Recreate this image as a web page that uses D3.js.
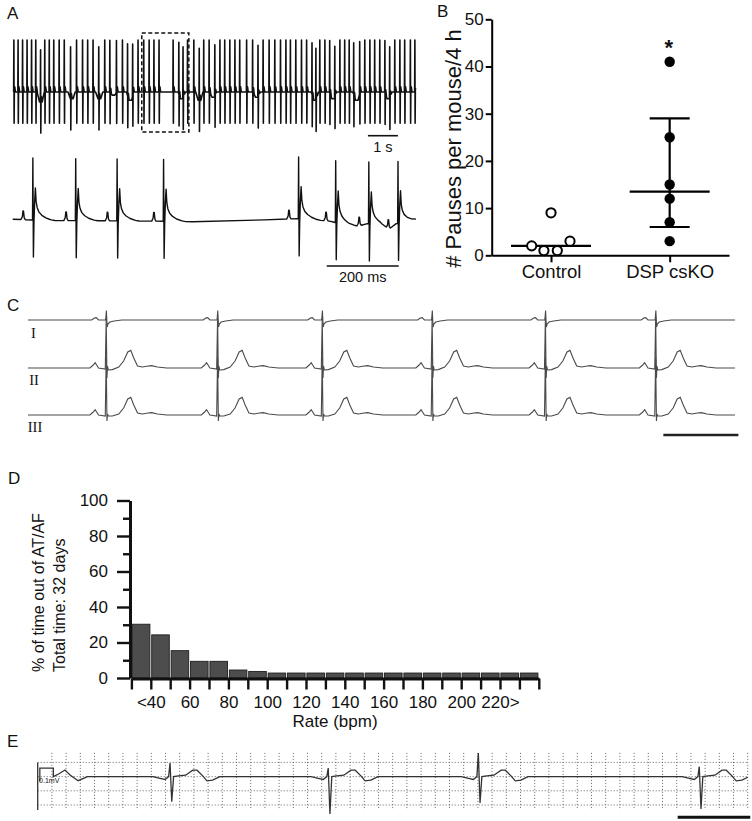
<!DOCTYPE html>
<html><head><meta charset="utf-8">
<script src="https://cdn.jsdelivr.net/npm/d3@7"></script>
<style>
body{margin:0;background:#fff}
svg{display:block}
text{font-family:"Liberation Sans",Arial,Helvetica,sans-serif;fill:#111}
</style>
</head><body>
<svg id="fig" width="752" height="821"></svg>
<script>
// ================= DATA =================
// Panel A (top): beat times (s) of the 13 s telemetry strip
const beatsA1 = [0.00,0.14,0.29,0.44,0.59,0.73,0.89,1.03,1.18,1.33,1.51,1.68,1.89,2.09,2.29,2.46,2.64,2.83,3.03,3.20,
  3.42,3.62,3.79,3.96,4.14,4.33,4.51,4.67,4.84,5.31,5.50,5.64,5.79,6.00,6.18,6.33,6.51,6.70,6.87,7.03,7.20,7.37,7.53,
  7.76,7.96,8.14,8.31,8.51,8.70,8.89,9.07,9.22,9.40,9.59,9.76,9.94,10.07,10.20,10.37,10.53,10.70,10.87,11.03,11.18,
  11.33,11.53,11.70,11.87,12.03,12.20,12.37,12.53,12.70,12.87,13.03,13.22,13.37];
const dipsA1 = [0.89,1.92,2.84,3.31,3.87,5.59,6.18,6.64,8.09,10.03,10.64,11.42,12.48];
const dipDepthA1 = [0.19,0.13,0.13,0.06,0.16,0.13,0.16,0.10,0.10,0.16,0.13,0.16,0.13];
const spikeA1 = [[-0.012,0],[-0.004,1],[0.004,-0.6],[0.012,0.05],[0.025,0.1],[0.05,0]];
const dipShape = [[-0.12,0],[-0.04,-1],[0.05,-1],[0.12,0]];
const zoomWindowA = [4.26,5.83];
const scaleBarA1 = [11.8,12.8];

// Panel A (bottom): expanded view, beat times (ms)
const beatsA2 = [57,176,291,420,795,898,990,1071];
const beatA2 = [[-34,0],[-30,0.05],[-28.5,0.14],[-27,0.14],[-25,0.03],[-22,0],
  [-2,0],[-1,1],[0.5,-0.6],[2,-0.05],[4,0.3],[6,0.52],[8,0.3],[11,0.2],[16,0.13],[24,0.08],[35,0.04],[50,0.01],[60,0]];
const baselineA2 = [[0,0.01],[100,-0.01],[400,-0.02],[500,-0.03],[700,0.0],[790,0.02],[880,-0.02],[930,-0.09],
  [960,-0.1],[985,-0.06],[1020,-0.09],[1045,-0.15],[1065,-0.06],[1100,-0.03],[1120,0.0]];
const scaleBarA2 = [872,1072];

// Panel B
const groupsB = ["Control","DSP csKO"];
const controlValues = [9,2,1,1,3];
const controlJitter = [0,-0.163,-0.06,0.053,0.16];
const dspValues = [41,25,15,12,7,3];
const mediansB = [2,13.5];
const dspIQR = [6,29];
const ticksB = [0,10,20,30,40,50];

// Panel C: three-lead surface ECG, R-peak times (ms)
const beatsC = [210,507,786,1079,1381,1675];
const leadNames = ["I","II","III"];
const leadI = [[-40,0],[-33,0.1],[-28,0.12],[-22,0],[-3,0],[-1,0.47],[1,-0.35],[3,-0.2],[8,-0.1],[20,-0.05],[40,0]];
const leadII = [[-45,0],[-36,0.15],[-31,0.27],[-27,0.15],[-22,0],[-4,-0.05],[-1.5,2.5],[0.5,-0.5],[2,0.1],[4,-0.1],
  [15,-0.08],[32,0.05],[45,0.35],[56,0.8],[64,0.88],[72,0.5],[82,0.1],[95,0.05],[110,0.1],[120,0.12],[135,0.05],[160,0]];
const leadIII = [[-45,0],[-36,0.15],[-31,0.27],[-27,0.15],[-22,0],[-4,-0.05],[-1.5,2.9],[0.5,-0.3],[2,0.05],[4,-0.05],
  [15,-0.05],[32,0.05],[45,0.35],[56,0.8],[64,0.88],[72,0.5],[82,0.1],[95,0.05],[110,0.1],[120,0.12],[135,0.05],[160,0]];
const scaleBarC = [1694,1894];

// Panel D: histogram of rate (bpm)
const rateBins = [30,40,50,60,70,80,90,100,110,120,130,140,150,160,170,180,190,200,210,220,230];
const pctTime = [30.3,24.3,15.4,9.4,9.4,4.5,3.7,2.8,2.8,2.8,2.8,2.8,2.8,2.8,2.8,2.8,2.8,2.8,2.8,2.8,2.8];
const rateLabelValues = [40,60,80,100,120,140,160,180,200,220];
const rateLabelText = ["<40","60","80","100","120","140","160","180","200","220>"];
const pctTicks = [0,20,40,60,80,100];
const pctMinor = [10,30,50,70,90];

// Panel E: loop-recorder strip (grid units)
const beatsE = [9.32,20.46,31.03,46.59];
const spikeUpE = [0.96,0.6,1.66,0.7];
const spikeDownE = [-1.77,-2.63,-1.86,-2.28];
const preWaveE = [[1.1,0],[1.5,0.2],[1.92,0.46],[2.3,0.1],[2.85,-0.29],[3.5,0]];
const calPulseE = [[0.15,-0.35],[0.15,0.6],[1.1,0.6],[1.1,0]];
const scaleBarE = [45.07,50.18];
const gridColsE = d3.range(0,51);
const gridRowsE = [1,0,-1,-2];

// ================= HELPERS =================
const svg = d3.select("#fig");
function tplValue(tpl, dt){
  if (dt <= tpl[0][0] || dt >= tpl[tpl.length-1][0]) return 0;
  const i = d3.bisector(d=>d[0]).right(tpl, dt);
  const a = tpl[i-1], b = tpl[i];
  return a[1] + (b[1]-a[1])*(dt-a[0])/(b[0]-a[0]);
}
function baseValue(bl, t){
  if (!bl) return 0;
  if (t <= bl[0][0]) return bl[0][1];
  if (t >= bl[bl.length-1][0]) return bl[bl.length-1][1];
  const i = d3.bisector(d=>d[0]).right(bl, t);
  const a = bl[i-1], b = bl[i];
  return a[1] + (b[1]-a[1])*(t-a[0])/(b[0]-a[0]);
}
function buildSignal(t0, t1, events, bl){
  const ts = new Set([t0, t1]);
  if (bl) bl.forEach(p=>ts.add(p[0]));
  events.forEach(e=>e.tpl.forEach(p=>ts.add(e.t + p[0])));
  const arr = [...ts].filter(t=>t>=t0 && t<=t1).sort((a,b)=>a-b);
  return arr.map(t=>[t, baseValue(bl,t) + d3.sum(events, e=>(e.amp||1)*tplValue(e.tpl, t-e.t))]);
}
function panelLabel(txt, x, y){
  svg.append("text").attr("x",x).attr("y",y).attr("font-size",17).text(txt);
}

// ================= PANEL A =================
panelLabel("A", 7, 18.5);
const xA1 = d3.scaleLinear().domain([0,13.37]).range([14,415]);
const yA1 = d3.scaleLinear().domain([-0.6,1]).range([123.2,40]);
const evA1 = beatsA1.map(t=>({t, tpl:spikeA1})).concat(dipsA1.map((t,i)=>({t, tpl:dipShape, amp:dipDepthA1[i]})));
const sigA1 = buildSignal(0-0.02, 13.37+0.02, evA1, null);
svg.append("path").datum(sigA1)
  .attr("d", d3.line().x(d=>xA1(d[0])).y(d=>yA1(d[1])))
  .attr("fill","none").attr("stroke","#111").attr("stroke-width",1.6).attr("stroke-linejoin","round");
svg.append("rect").attr("x",xA1(zoomWindowA[0])).attr("y",33)
  .attr("width",xA1(zoomWindowA[1])-xA1(zoomWindowA[0])).attr("height",99)
  .attr("fill","none").attr("stroke","#111").attr("stroke-width",1.5).attr("stroke-dasharray","4,2.5");
svg.append("line").attr("x1",xA1(scaleBarA1[0])).attr("x2",xA1(scaleBarA1[1])).attr("y1",135.7).attr("y2",135.7)
  .attr("stroke","#111").attr("stroke-width",1.6);
svg.append("text").attr("x",(xA1(scaleBarA1[0])+xA1(scaleBarA1[1]))/2).attr("y",151.5)
  .attr("text-anchor","middle").attr("font-size",14.5).text("1 s");

const xA2 = d3.scaleLinear().domain([0,1120]).range([12.7,416]);
const yA2 = d3.scaleLinear().domain([-0.6,1]).range([257,158]);
const sigA2 = buildSignal(0,1120, beatsA2.map(t=>({t,tpl:beatA2})), baselineA2);
svg.append("path").datum(sigA2)
  .attr("d", d3.line().x(d=>xA2(d[0])).y(d=>yA2(d[1])))
  .attr("fill","none").attr("stroke","#111").attr("stroke-width",1.4).attr("stroke-linejoin","round");
svg.append("line").attr("x1",xA2(scaleBarA2[0])).attr("x2",xA2(scaleBarA2[1])).attr("y1",266).attr("y2",266)
  .attr("stroke","#111").attr("stroke-width",1.6);
svg.append("text").attr("x",(xA2(scaleBarA2[0])+xA2(scaleBarA2[1]))/2).attr("y",281.5)
  .attr("text-anchor","middle").attr("font-size",14.5).text("200 ms");

// ================= PANEL B =================
panelLabel("B", 437, 16.7);
const xB = d3.scalePoint().domain(groupsB).range([491.7,729]).padding(0.5);
const yB = d3.scaleLinear().domain([0,50]).range([255.3,19.3]);
const gB = svg.append("g");
const axYB = gB.append("g").attr("transform","translate(491.7,0)")
  .call(d3.axisLeft(yB).tickValues(ticksB).tickSize(6).tickPadding(2).tickSizeOuter(0));
const axXB = gB.append("g").attr("transform","translate(0,255.3)")
  .call(d3.axisBottom(xB).tickSize(7).tickPadding(3).tickSizeOuter(0));
[axYB, axXB].forEach(a=>{
  a.select(".domain").attr("stroke","#000").attr("stroke-width",2);
  a.selectAll(".tick line").attr("stroke","#000").attr("stroke-width",2);
  a.selectAll("text").attr("fill","#111").style("font-family","'Liberation Sans',Arial,sans-serif");
});
axYB.selectAll("text").attr("font-size",17);
axXB.selectAll("text").attr("font-size",18.5);
svg.append("text").attr("transform","translate(453,148.5) rotate(-90)").attr("dy","0.35em")
  .attr("text-anchor","middle").attr("font-size",22).text("# Pauses per mouse/4 h");
const stepB = xB.step();
// medians
svg.selectAll(".medB").data(mediansB).join("line")
  .attr("x1",(d,i)=>xB(groupsB[i])-40).attr("x2",(d,i)=>xB(groupsB[i])+40)
  .attr("y1",d=>yB(d)).attr("y2",d=>yB(d)).attr("stroke","#000").attr("stroke-width",2.2);
// IQR for DSP
const cx = xB(groupsB[1]);
svg.append("line").attr("x1",cx).attr("x2",cx).attr("y1",yB(dspIQR[0])).attr("y2",yB(dspIQR[1]))
  .attr("stroke","#000").attr("stroke-width",2.2);
svg.selectAll(".capB").data(dspIQR).join("line")
  .attr("x1",cx-20).attr("x2",cx+20).attr("y1",d=>yB(d)).attr("y2",d=>yB(d))
  .attr("stroke","#000").attr("stroke-width",2.2);
svg.selectAll(".ctrlPt").data(controlValues).join("circle")
  .attr("cx",(d,i)=>xB(groupsB[0])+controlJitter[i]*stepB).attr("cy",d=>yB(d)).attr("r",4.6)
  .attr("fill","#fff").attr("stroke","#000").attr("stroke-width",2);
svg.selectAll(".dspPt").data(dspValues).join("circle")
  .attr("cx",cx).attr("cy",d=>yB(d)).attr("r",5.2).attr("fill","#000");
svg.append("text").attr("x",cx-1).attr("y",yB(d3.max(dspValues))-7).attr("text-anchor","middle")
  .attr("font-size",22).attr("font-weight","bold").text("*");

// ================= PANEL C =================
panelLabel("C", 7, 310.7);
const xC = d3.scaleLinear().domain([0,1885]).range([28,735]);
const baseC = [320,368,415];
const tplC = [leadI, leadII, leadIII];
tplC.forEach((tpl, k)=>{
  const yC = d3.scaleLinear().domain([-1,1]).range([baseC[k]+20, baseC[k]-20]);
  const sig = buildSignal(0,1885, beatsC.map(t=>({t,tpl})), null);
  svg.append("path").datum(sig)
    .attr("d", d3.line().x(d=>xC(d[0])).y(d=>yC(d[1])))
    .attr("fill","none").attr("stroke","#4a4a4a").attr("stroke-width",1.1);
});
const leadLabelPos = [[33.5,338],[34,385],[35,431.7]];
svg.selectAll(".leadLab").data(leadNames).join("text")
  .attr("x",(d,i)=>leadLabelPos[i][0]).attr("y",(d,i)=>leadLabelPos[i][1])
  .attr("text-anchor","middle").attr("font-size",14.5)
  .style("font-family","'Liberation Serif','Times New Roman',serif").attr("fill","#333").text(d=>d);
svg.append("line").attr("x1",xC(scaleBarC[0])).attr("x2",xC(scaleBarC[1])).attr("y1",435).attr("y2",435)
  .attr("stroke","#222").attr("stroke-width",2.4);

// ================= PANEL D =================
panelLabel("D", 8, 484);
const xD = d3.scaleLinear().domain([30,240]).range([131.4,538.8]);
const yD = d3.scaleLinear().domain([0,100]).range([678,500.5]);
svg.selectAll(".barD").data(pctTime).join("rect")
  .attr("x",(d,i)=>xD(rateBins[i])+0.9).attr("width",(d,i)=>xD(rateBins[i]+10)-xD(rateBins[i])-1.8)
  .attr("y",d=>yD(d)).attr("height",d=>yD(0)-yD(d))
  .attr("fill","#4d4d4d").attr("stroke","#1e1e1e").attr("stroke-width",0.9);
const axYD = svg.append("g").attr("transform","translate(130,0)")
  .call(d3.axisLeft(yD).tickValues(pctTicks).tickSize(13).tickPadding(9).tickSizeOuter(0));
svg.append("g").attr("transform","translate(130,0)")
  .call(d3.axisLeft(yD).tickValues(pctMinor).tickSize(7).tickFormat("").tickSizeOuter(0))
  .call(g=>{g.select(".domain").remove(); g.selectAll(".tick line").attr("stroke","#111").attr("stroke-width",2.4);});
const axXD = svg.append("g").attr("transform","translate(0,678.5)")
  .call(d3.axisBottom(xD).tickValues(d3.range(30,250,10)).tickSize(11).tickPadding(6).tickSizeOuter(0)
    .tickFormat(v=>{const i=rateLabelValues.indexOf(v); return i>=0?rateLabelText[i]:"";}));
[axYD, axXD].forEach(a=>{
  a.select(".domain").attr("stroke","#111").attr("stroke-width",3);
  a.selectAll(".tick line").attr("stroke","#111").attr("stroke-width",2.4);
  a.selectAll("text").attr("fill","#1a1a1a").attr("font-size",17).style("font-family","'Liberation Sans',Arial,sans-serif");
});
svg.append("text").attr("x",(xD(30)+xD(240))/2).attr("y",727).attr("text-anchor","middle")
  .attr("font-size",17).attr("fill","#1a1a1a").text("Rate (bpm)");
svg.append("text").attr("transform","translate(44,672) rotate(-90)").attr("font-size",16)
  .attr("fill","#1a1a1a").text("% of time out of AT/AF");
svg.append("text").attr("transform","translate(64.5,672) rotate(-90)").attr("font-size",16)
  .attr("fill","#1a1a1a").text("Total time: 32 days");

// ================= PANEL E =================
panelLabel("E", 7, 746.7);
const xE = d3.scaleLinear().domain([0,50]).range([37.7,747.7]);
const yE = d3.scaleLinear().domain([-1,1]).range([790.8,762.4]);
svg.selectAll(".gcol").data(gridColsE.slice(1)).join("line")
  .attr("x1",d=>xE(d)).attr("x2",d=>xE(d)).attr("y1",yE(1.67)).attr("y2",yE(-2.35))
  .attr("stroke","#666").attr("stroke-width",1).attr("stroke-dasharray","1,2");
svg.selectAll(".grow").data(gridRowsE).join("line")
  .attr("x1",xE(0)).attr("x2",xE(50)).attr("y1",d=>yE(d)).attr("y2",d=>yE(d))
  .attr("stroke","#666").attr("stroke-width",1).attr("stroke-dasharray","1,2");
svg.append("line").attr("x1",xE(0)).attr("x2",xE(0)).attr("y1",yE(1)).attr("y2",yE(-2.35))
  .attr("stroke","#333").attr("stroke-width",1.3);
const tplE = (up,down)=>[[-1.2,0],[-0.7,-0.12],[-0.35,-0.2],[-0.1,0],[0,up],[0.12,down],[0.25,0],[0.6,0.05],
  [1.1,0.1],[1.6,0.45],[1.9,0.45],[2.3,0.05],[2.6,-0.3],[3.0,-0.25],[3.5,0],[4,0]];
const sigE = buildSignal(1.1, 50, beatsE.map((t,i)=>({t,tpl:tplE(spikeUpE[i],spikeDownE[i])})).concat([{t:0,tpl:preWaveE}]), null);
const lineE = d3.line().x(d=>xE(d[0])).y(d=>yE(d[1]));
svg.append("path").datum(calPulseE.concat(sigE)).attr("d",lineE)
  .attr("fill","none").attr("stroke","#333").attr("stroke-width",1.3);
svg.append("text").attr("x",xE(0.1)).attr("y",yE(-0.45)).attr("font-size",7).attr("fill","#777").text("0.1mV");
svg.append("line").attr("x1",xE(scaleBarE[0])).attr("x2",xE(scaleBarE[1])).attr("y1",817.3).attr("y2",817.3)
  .attr("stroke","#111").attr("stroke-width",3);
</script>
</body></html>
